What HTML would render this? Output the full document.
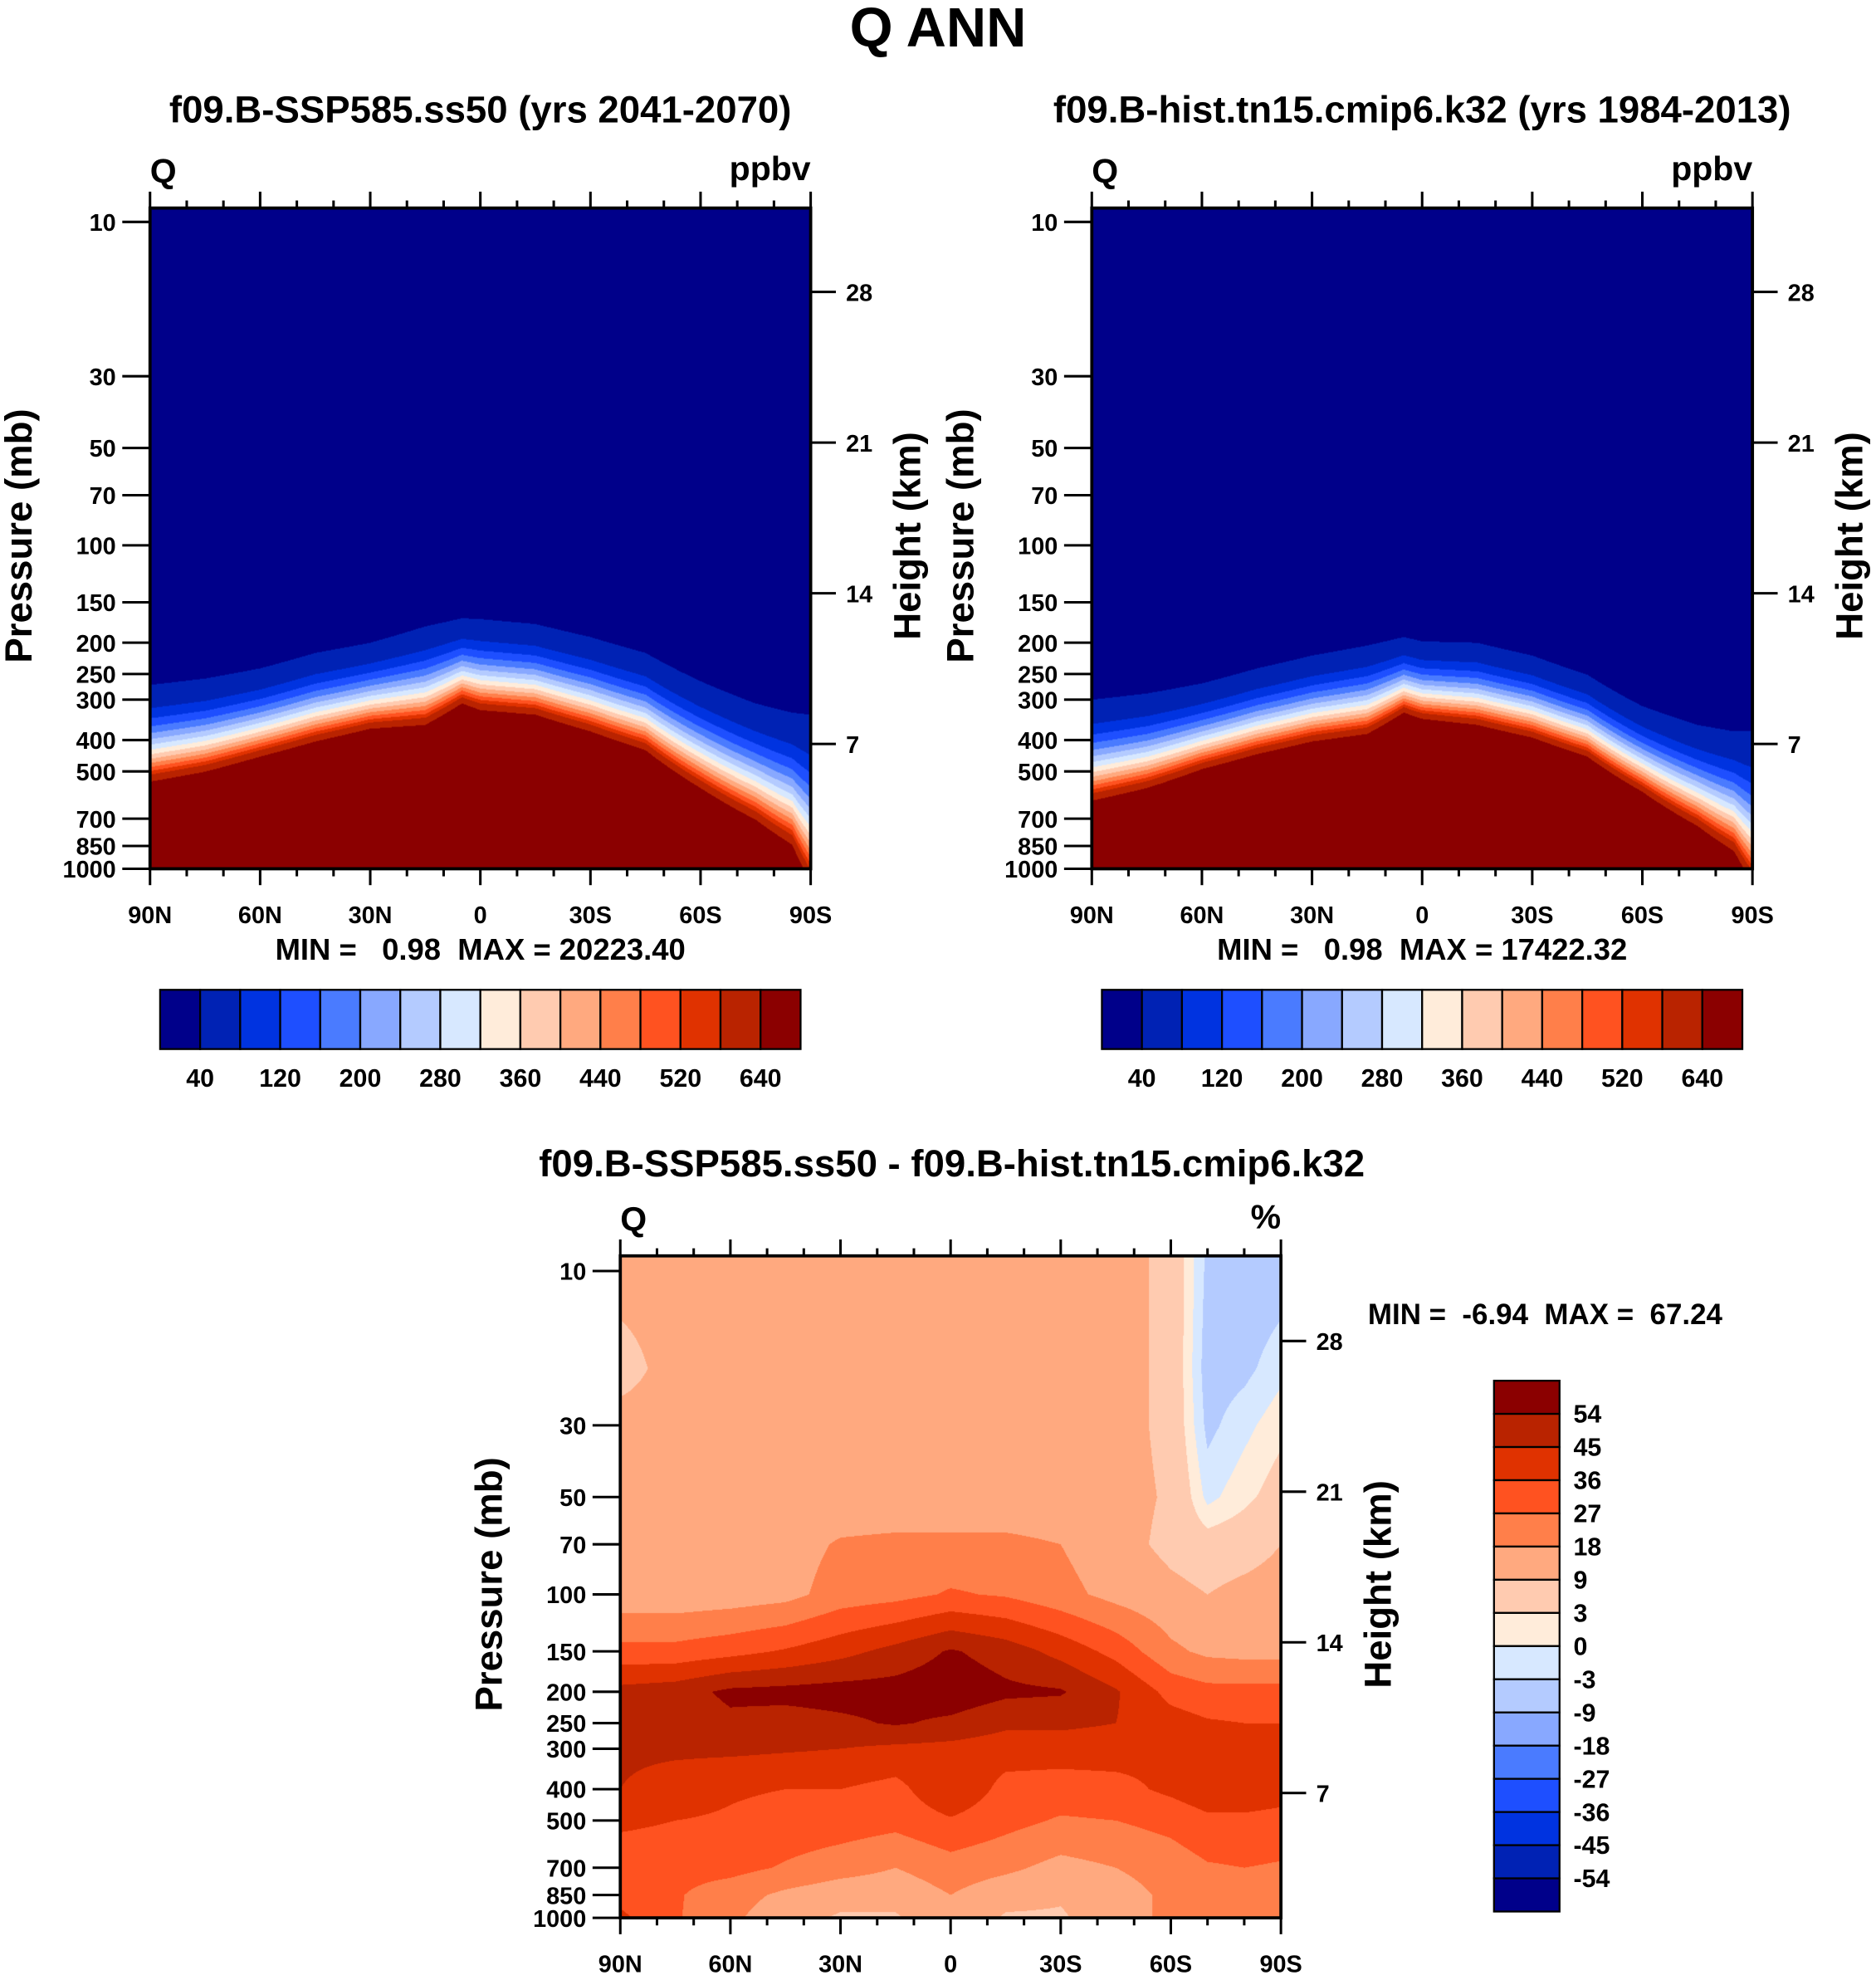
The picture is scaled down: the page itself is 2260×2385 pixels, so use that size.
<!DOCTYPE html>
<html><head><meta charset="utf-8">
<style>
html,body{margin:0;padding:0;background:#fff;}
#wrap{position:relative;width:1488px;height:1570px;transform:scale(1.51882);transform-origin:0 0;}
canvas{position:absolute;}
svg{position:absolute;left:0;top:0;}
text{font-family:"Liberation Sans",sans-serif;font-weight:bold;fill:#000;}
</style></head>
<body>
<div id="wrap">
<canvas id="c1" style="left:119px;top:165px;width:524px;height:524px"></canvas>
<canvas id="c2" style="left:866px;top:165px;width:524px;height:524px"></canvas>
<canvas id="c3" style="left:492px;top:996px;width:524px;height:525px"></canvas>
<svg id="s" width="1488" height="1570" viewBox="0 0 1488 1570">
<text x="744" y="37" text-anchor="middle" font-size="44">Q ANN</text>
<text x="381" y="97" text-anchor="middle" font-size="30">f09.B-SSP585.ss50 (yrs 2041-2070)</text>
<text x="1128" y="97" text-anchor="middle" font-size="30">f09.B-hist.tn15.cmip6.k32 (yrs 1984-2013)</text>
<text x="755" y="933" text-anchor="middle" font-size="30">f09.B-SSP585.ss50 - f09.B-hist.tn15.cmip6.k32</text>
<text x="381" y="761" text-anchor="middle" font-size="24" xml:space="preserve">MIN =   0.98  MAX = 20223.40</text>
<text x="1128" y="761" text-anchor="middle" font-size="24" xml:space="preserve">MIN =   0.98  MAX = 17422.32</text>
<text x="1085" y="1050" font-size="23" xml:space="preserve">MIN =  -6.94  MAX =  67.24</text>
</svg>
</div>
<script>
// ---- data: top panels (latitudes and contour-edge pressures, mb) ----
const topLats = [90,75,60,45,30,15,5,0,-15,-30,-45,-60,-75,-85,-90];
const leftTopEdge = [270,258,240,215,200,178,168,169,175,192,215,263,308,329,334];
const leftBotEdge = [538,501,450,404,369,359,308,323,334,376,430,563,705,843,1100];
const rightTopEdge = [300,287,267,240,219,204,192,198,200,219,251,314,359,376,376];
const rightBotEdge = [616,563,492,442,404,383,329,344,359,393,450,578,737,882,1100];
const absLevels = [40,80,120,160,200,240,280,320,360,400,440,480,520,560,640];
const absLabels = ["40","120","200","280","360","440","520","640"];
// ---- data: difference panel (%) ----
const diffLats = [90,75,60,45,30,15,0,-15,-30,-45,-60,-70,-80,-90];
const diffPres = [10,20,30,50,70,100,150,200,250,300,400,500,700,850,1000];
const row10  = [12,12,12,12,12,12,12,12,12,12,7,-4,-6,-5];
const row20  = [6,12,12,12,12,12,12,12,12,12,7,-5,-4,-1];
const row30  = [12,12,12,12,12,12,12,12,12,12,7,-4,-1,2];
const row50  = [12,12,12,12,12,12,12,12,12,12,8,-1,2,5];
const row70  = [12,12,12,14,19,20,20,20,18,12,7,5,6,9];
const row100 = [12,12,13,15,22,24,28,26,21,15,11,9,11,12];
const row150 = [30,30,33,37,42,48,55,50,42,33,20,16,15,15];
const row200 = [48,50,56,57,58,58,60,56,55,46,33,30,30,30];
const row250 = [48,48,52,50,52,55,52,47,47,45,40,37,36,36];
const row300 = [47,47,47,46,45,43,42,40,40,40,38,40,40,40];
const row400 = [45,40,37,36,36,33,44,33,32,33,38,42,42,40];
const row500 = [38,36,35,33,32,30,35,30,26,27,30,34,34,33];
const row700 = [30,30,30,26,22,18,23,20,15,18,22,26,27,26];
const row850 = [33,28,22,16,12,12,18,12,10,14,20,20,20,20];
const row1000= [38,28,20,12,8,8,16,8,8,14,20,20,20,20];
const diffRows = [row10,row20,row30,row50,row70,row100,row150,row200,row250,row300,row400,row500,row700,row850,row1000];
const diffLevels = [-54,-45,-36,-27,-18,-9,-3,0,3,9,18,27,36,45,54];
const diffLabels = ["-54","-45","-36","-27","-18","-9","-3","0","3","9","18","27","36","45","54"];
const pTicks = [10,30,50,70,100,150,200,250,300,400,500,700,850,1000];
const kmTicks = [7,14,21,28];
const latTicks = [90,60,30,0,-30,-60,-90];
const latNames = ["90N","60N","30N","0","30S","60S","90S"];

const colors = ["#00008a","#0022b4","#0033e0","#1e4fff","#4a7bff","#88a8ff","#b4cbff","#d7e8ff",
 "#ffecda","#ffcbb0","#ffa97f","#ff7f4a","#ff5220","#e03200","#b92300","#8b0000"];
const rgb = colors.map(c=>[parseInt(c.substr(1,2),16),parseInt(c.substr(3,2),16),parseInt(c.substr(5,2),16)]);
const NS="http://www.w3.org/2000/svg";
const svg=document.getElementById('s');
const DPR=1.51882;

function levelIndex(v,levels){let i=0;while(i<levels.length&&v>=levels[i])i++;return i;}
function interp1(xs,ys,x){
  for(let i=0;i<xs.length-1;i++){ if(x<=xs[i]&&x>=xs[i+1]){const t=(xs[i]-x)/(xs[i]-xs[i+1]);return ys[i]+(ys[i+1]-ys[i])*t;} }
  return x>xs[0]?ys[0]:ys[ys.length-1];
}
function mk(tag,attrs,name,parent){const e=document.createElementNS(NS,tag);for(const k in attrs)e.setAttribute(k,attrs[k]);
  
  
  (parent||svg).appendChild(e);return e;}

function makeAxes(x0,y0,w,h){
  const xOf=lat=>x0+(90-lat)/180*w;
  const yOfP=p=>y0+h-256.5*Math.log10(1000/p);
  const yOfKm=km=>y0+h+20.5-17.07*km;
  return {xOf,yOfP,yOfKm,x0,y0,w,h};
}

function renderCanvas(id,ax,valFn,levels){
  const cv=document.getElementById(id);
  const W=Math.round(ax.w*DPR),H=Math.round(ax.h*DPR);
  cv.width=W;cv.height=H;
  const ctx=cv.getContext('2d');const img=ctx.createImageData(W,H);
  for(let i=0;i<W;i++){
    const lat=90-(i+0.5)/W*180;
    const col=valFn.prep(lat);
    for(let j=0;j<H;j++){
      const y=ax.y0+(j+0.5)/H*ax.h;
      const lp=Math.log10(1000)-(ax.y0+ax.h-y)/256.5;
      const v=col(lp);
      const c=rgb[levelIndex(v,levels)];
      const k=(j*W+i)*4;img.data[k]=c[0];img.data[k+1]=c[1];img.data[k+2]=c[2];img.data[k+3]=255;
    }
  }
  ctx.putImageData(img,0,0);
}

function absField(topE,botE){
  return {prep:lat=>{const lt=Math.log10(interp1(topLats,topE,lat)),lb=Math.log10(interp1(topLats,botE,lat));
    return lp=>{const t=(lp-lt)/(lb-lt); if(t<0)return 40+600*t; return 40+600*Math.pow(t,1.9);};}};
}
const diffField={prep:lat=>{
  const col=diffRows.map(r=>interp1(diffLats,r,lat));
  const lps=diffPres.map(p=>Math.log10(p));
  return lp=>{ if(lp<=lps[0])return col[0]; for(let i=0;i<lps.length-1;i++){ if(lp<=lps[i+1]){const t=(lp-lps[i])/(lps[i+1]-lps[i]);return col[i]+(col[i+1]-col[i])*t;} } return col[col.length-1];};
}};

function drawFrame(ax,unit,panel){
  const g=mk('g',{},panel+'-axes');
  mk('rect',{x:ax.x0,y:ax.y0,width:ax.w,height:ax.h,fill:'none',stroke:'#000','stroke-width':2.5},panel+'-frame',g);
  for(let lat=90;lat>=-90;lat-=10){
    const x=ax.xOf(lat);const major=lat%30===0;
    mk('line',{x1:x,y1:ax.y0,x2:x,y2:ax.y0-(major?13:6),stroke:'#000','stroke-width':2},panel+'-top-tick',g);
    mk('line',{x1:x,y1:ax.y0+ax.h,x2:x,y2:ax.y0+ax.h+(major?13:6),stroke:'#000','stroke-width':2},panel+'-bottom-tick',g);
  }
  latTicks.forEach((lat,i)=>{const t=mk('text',{x:ax.xOf(lat),y:ax.y0+ax.h+43,'text-anchor':'middle','font-size':19},panel+'-x-label',g);t.textContent=latNames[i];});
  pTicks.forEach(p=>{const y=ax.yOfP(p);
    mk('line',{x1:ax.x0-22,y1:y,x2:ax.x0,y2:y,stroke:'#000','stroke-width':2},panel+'-p-tick',g);
    const t=mk('text',{x:ax.x0-27,y:y+7,'text-anchor':'end','font-size':19},panel+'-p-label',g);t.textContent=p;});
  kmTicks.forEach(km=>{const y=ax.yOfKm(km);
    mk('line',{x1:ax.x0+ax.w,y1:y,x2:ax.x0+ax.w+20,y2:y,stroke:'#000','stroke-width':2},panel+'-km-tick',g);
    const t=mk('text',{x:ax.x0+ax.w+28,y:y+7,'font-size':19},panel+'-km-label',g);t.textContent=km;});
  let t=mk('text',{x:ax.x0,y:ax.y0-20,'font-size':27},panel+'-var-label',g);t.textContent='Q';
  t=mk('text',{x:ax.x0+ax.w,y:ax.y0-22,'text-anchor':'end','font-size':27},panel+'-unit-label',g);t.textContent=unit;
  const cy=ax.y0+ax.h/2-2;
  t=mk('text',{x:0,y:0,'text-anchor':'middle','font-size':30,transform:`translate(${ax.x0-94},${cy}) rotate(-90)`},panel+'-y-axis-title',g);t.textContent='Pressure (mb)';
  t=mk('text',{x:0,y:0,'text-anchor':'middle','font-size':30,transform:`translate(${ax.x0+ax.w+87},${cy}) rotate(-90)`},panel+'-y2-axis-title',g);t.textContent='Height (km)';
}

function hColorbar(x0,y0,panel){
  const g=mk('g',{},panel+'-colorbar');const bw=508/16;
  for(let i=0;i<16;i++) mk('rect',{x:x0+i*bw,y:y0,width:bw,height:47,fill:colors[i],stroke:'#000','stroke-width':1.5},panel+'-colorbar-box',g);
  absLabels.forEach((l,k)=>{const t=mk('text',{x:x0+bw*(2*k+1),y:y0+77,'text-anchor':'middle','font-size':20},panel+'-colorbar-label',g);t.textContent=l;});
}

const axL=makeAxes(119,165,524,524), axR=makeAxes(866,165,524,524), axD=makeAxes(492,996,524,525);
renderCanvas('c1',axL,absField(leftTopEdge,leftBotEdge),absLevels);
renderCanvas('c2',axR,absField(rightTopEdge,rightBotEdge),absLevels);
renderCanvas('c3',axD,diffField,diffLevels);
drawFrame(axL,'ppbv','left');
drawFrame(axR,'ppbv','right');
drawFrame(axD,'%','diff');
hColorbar(127,785,'left');
hColorbar(874,785,'right');
(function(){const g=mk('g',{},'diff-colorbar');const bh=421/16;
  for(let i=0;i<16;i++) mk('rect',{x:1185,y:1095+i*bh,width:52,height:bh,fill:colors[15-i],stroke:'#000','stroke-width':1.5},'diff-colorbar-box',g);
  for(let i=0;i<15;i++){const t=mk('text',{x:1248,y:1095+bh*(i+1)+7,'font-size':20},'diff-colorbar-label',g);t.textContent=diffLabels[14-i];}
})();
</script>
</body></html>
